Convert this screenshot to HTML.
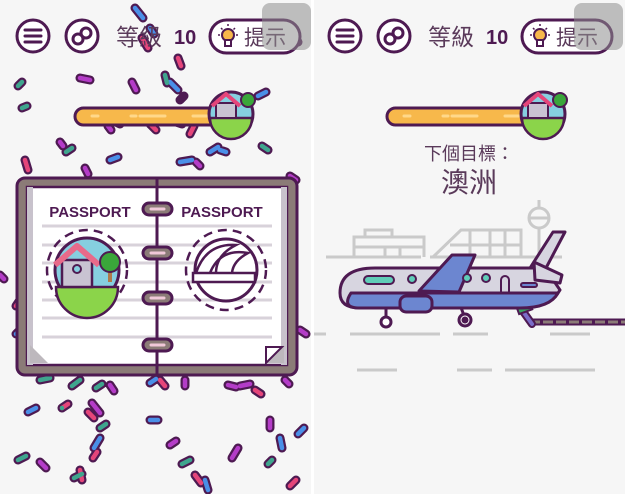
<!DOCTYPE html>
<html><head><meta charset="utf-8"><style>
html,body{margin:0;padding:0;background:#f6f6f6;width:625px;height:494px;overflow:hidden}
svg{display:block}
text{font-family:"Liberation Sans","Noto Sans CJK TC",sans-serif}
</style></head><body>
<svg width="625" height="494" viewBox="0 0 625 494">
<rect width="625" height="494" fill="#f6f6f6"/>
<rect x="311" y="0" width="3" height="494" fill="#ffffff"/>

<!-- confetti -->
<g stroke-linecap="round" fill="none">
<path stroke="#4e1a52" stroke-width="9" d="M135 8l8 10M142 38l6 10M150 28l4 6M178 58l3 8M165 75l2 8M80 78l10 2M132 82l4 8M170 82l8 8M18 86l4-4M22 108l5-2M258 96l8-4M180 100l4-4M108 126l3 4M150 124l6 6M176 122l6 2M190 134l4-8M210 152l8-5M220 150l6 2M262 146l6 4M25 160l3 10M66 152l6-4M110 160l8-3M85 168l3 6M180 162l12-2M196 162l4 4M112 120l8 4M60 142l3 4M290 36l8 6M40 380l10-2M72 386l8-6M96 388l6-4M110 385l4 6M150 383l6-4M160 380l5 6M185 380l0 6M240 386l10-2M255 390l6 4M28 412l8-4M62 408l6-4M92 403l8 10M88 412l6 6M100 428l6-4M100 438l-6 10M97 452l-4 6M150 420l8 0M170 445l6-4M18 460l8-4M40 462l6 6M74 478l8-4M80 470l2 10M182 464l8-4M195 475l6 8M205 480l3 10M238 448l-6 10M270 420l0 8M280 438l2 10M304 428l-6 6M296 480l-6 6M272 460l-4 4M285 380l4 4M228 385l8 2M20 300l-4 6M20 330l-4 4M300 330l6 4M290 176l6 4M0 275l4 4"/>
<path stroke="#e5457a" stroke-width="4.5" d="M142 38l6 10M178 58l3 8M25 160l3 10M190 134l4-8M150 124l6 6M160 380l5 6M62 408l6-4M88 412l6 6M97 452l-4 6M195 475l6 8M296 480l-6 6M255 390l6 4M80 470l2 10M20 300l-4 6"/>
<path stroke="#4a8fe8" stroke-width="4.5" d="M135 8l8 10M150 28l4 6M170 82l8 8M258 96l8-4M210 152l8-5M220 150l6 2M110 160l8-3M180 162l12-2M28 412l8-4M150 383l6-4M100 438l-6 10M150 420l8 0M205 480l3 10M304 428l-6 6M280 438l2 10M20 330l-4 4M290 36l8 6"/>
<path stroke="#3fa58e" stroke-width="4.5" d="M165 75l2 8M18 86l4-4M22 108l5-2M176 122l6 2M66 152l6-4M262 146l6 4M72 386l8-6M96 388l6-4M40 380l10-2M62 408l0 0M100 428l6-4M74 478l8-4M18 460l8-4M272 460l-4 4M182 464l8-4M112 120l8 4"/>
<path stroke="#b43cc8" stroke-width="4.5" d="M80 78l10 2M132 82l4 8M108 126l3 4M85 168l3 6M196 162l4 4M60 142l3 4M110 385l4 6M185 380l0 6M240 386l10-2M92 403l8 10M170 445l6-4M40 462l6 6M238 448l-6 10M270 420l0 8M285 380l4 4M228 385l8 2M300 330l6 4M290 176l6 4M0 275l4 4"/>
</g>

<!-- headers -->
<g id="hdr">
<circle cx="33" cy="36" r="16" fill="#fff" stroke="#4e1a52" stroke-width="3"/>
<path d="M25 30h16M25 36h16M25 42h16" stroke="#4e1a52" stroke-width="3" stroke-linecap="round"/>
<circle cx="82" cy="36" r="16" fill="#fff" stroke="#4e1a52" stroke-width="3"/>
<circle cx="78" cy="39" r="5" fill="none" stroke="#4e1a52" stroke-width="3"/>
<circle cx="86" cy="33" r="5" fill="none" stroke="#4e1a52" stroke-width="3"/>
<text x="116" y="45" font-size="23" fill="#5a3a5a">等級</text>
<text x="174" y="44" font-size="20" font-weight="bold" fill="#4e1a52">10</text>
<rect x="210" y="20" width="90" height="33" rx="16.5" fill="#fff" stroke="#4e1a52" stroke-width="3"/>
<circle cx="228" cy="35" r="6" fill="#f7b84b" stroke="#4e1a52" stroke-width="2"/>
<rect x="225" y="40" width="6" height="6" fill="#fff" stroke="#4e1a52" stroke-width="2"/>
<path d="M228 24v2M218 35h2M236 35h2M221 28l1.5 1.5M235 28l-1.5 1.5" stroke="#4e1a52" stroke-width="1.5"/>
<text x="244" y="45" font-size="21" fill="#5a3a5a">提示</text>
<rect x="262" y="3" width="49" height="47" rx="8" fill="#8e8e8e" opacity="0.55"/>
<!-- progress -->
<rect x="75" y="108" width="165" height="17" rx="8.5" fill="#f7b84b" stroke="#4e1a52" stroke-width="3"/>
<path d="M92 116h6M131 116h5M140 116h25M193 116h16" stroke="#ffd88a" stroke-width="3" stroke-linecap="round"/>
<circle cx="231" cy="114" r="22" fill="#86cfe0" stroke="#4e1a52" stroke-width="3"/>
<path d="M210 118h42a21 21 0 0 1-42 0z" fill="#8bd44a" stroke="#4e1a52" stroke-width="2.5"/>
<rect x="216" y="103" width="20" height="15" fill="#c9c3d2" stroke="#4e1a52" stroke-width="2"/>
<path d="M212 106l14-12 14 12" fill="none" stroke="#e5457a" stroke-width="4" stroke-linejoin="round"/>
<circle cx="248" cy="100" r="7" fill="#3aa63a" stroke="#4e1a52" stroke-width="2"/>
</g>
<use href="#hdr" x="312"/>

<!-- passport -->
<rect x="17" y="178" width="280" height="197" rx="8" fill="#8b7b77" stroke="#4e1a52" stroke-width="3"/>
<rect x="27" y="187" width="260" height="178" fill="#fff" stroke="#4e1a52" stroke-width="2.5"/>
<path d="M27 187h6v178h-6zM281 187h6v178h-6z" fill="#c8c2cc"/>
<path d="M30 345l18 18h-18zM284 345l-18 18h18z" fill="#bdb8bd"/>
<path d="M266 363v-16h16z" fill="#fff" stroke="#4e1a52" stroke-width="2"/>
<g stroke="#d8d2da" stroke-width="3">
<path d="M42 226h230M42 245h230M42 263h230M42 282h230M42 300h230M42 318h230M42 337h230"/>
</g>
<line x1="157" y1="178" x2="157" y2="375" stroke="#4e1a52" stroke-width="3"/>
<text x="90" y="217" font-size="15" font-weight="bold" fill="#4e1a52" text-anchor="middle">PASSPORT</text>
<text x="222" y="217" font-size="15" font-weight="bold" fill="#4e1a52" text-anchor="middle">PASSPORT</text>
<g fill="#8b7b77" stroke="#4e1a52" stroke-width="3">
<rect x="143" y="203" width="29" height="12" rx="6"/><rect x="143" y="247" width="29" height="12" rx="6"/>
<rect x="143" y="292" width="29" height="12" rx="6"/><rect x="143" y="339" width="29" height="12" rx="6"/>
</g>
<path d="M151 209h13M151 253h13M151 298h13M151 345h13" stroke="#f0c8d8" stroke-width="3" stroke-linecap="round"/>
<circle cx="87" cy="270" r="40" fill="none" stroke="#4e1a52" stroke-width="2.5" stroke-dasharray="9 6"/>
<circle cx="226" cy="270" r="40" fill="none" stroke="#4e1a52" stroke-width="2.5" stroke-dasharray="9 6"/>
<circle cx="87" cy="270" r="32" fill="#86cfe0" stroke="#4e1a52" stroke-width="3"/>
<path d="M56 287h62a31 31 0 0 1-62 0z" fill="#8bd44a" stroke="#4e1a52" stroke-width="2.5"/>
<rect x="62" y="260" width="30" height="27" fill="#c9c3d2" stroke="#4e1a52" stroke-width="2.5"/>
<circle cx="77" cy="269" r="4" fill="#86cfe0" stroke="#4e1a52" stroke-width="2"/>
<path d="M55 265l22-19 22 19" fill="none" stroke="#e86a8a" stroke-width="6" stroke-linejoin="round"/>
<rect x="108" y="268" width="4" height="14" fill="#b07a4a"/>
<circle cx="110" cy="262" r="10" fill="#3aa63a" stroke="#4e1a52" stroke-width="2"/>
<circle cx="226" cy="270" r="31" fill="#fff" stroke="#4e1a52" stroke-width="3"/>
<path d="M196 273q10-30 40-28q-20 10-20 28M210 273q10-25 38-20q-15 8-16 20M193 273h62v9h-62z" fill="#fff" stroke="#4e1a52" stroke-width="2.5"/>

<!-- right panel text -->
<text x="469" y="160" font-size="18" fill="#5a3a5a" text-anchor="middle">下個目標：</text>
<text x="469" y="192" font-size="28" fill="#5a3a5a" text-anchor="middle">澳洲</text>

<!-- airport -->
<g fill="none" stroke="#cacaca" stroke-width="3">
<path d="M326 257h95M430 257h132"/>
<path d="M354 257v-20h70v20M365 237v-7h27v7M354 247h70M385 247v10M400 247v10"/>
<path d="M433 257l28-27h60v27M470 230v27M490 230v27M505 230v27M450 245h71"/>
<path d="M539 257v-30M539 208v-8"/>
<circle cx="539" cy="218" r="10"/><path d="M529 218h20"/>
</g>
<!-- ground -->
<g stroke="#cacaca" stroke-width="3">
<path d="M314 334h12M350 334h90M453 334h35M550 334h40M357 370h40M457 370h35M505 370h90"/>
</g>
<!-- conveyor -->
<path d="M528 322h97" stroke="#4e1a52" stroke-width="7"/>
<path d="M530 322h95" stroke="#8b7b77" stroke-width="3" stroke-dasharray="10 3"/>
<path d="M512 296l20 28" stroke="#4e1a52" stroke-width="8" stroke-linecap="round"/>
<path d="M512 296l20 28" stroke="#7b6dc8" stroke-width="4" stroke-linecap="round"/>
<rect x="517" y="302" width="14" height="10" fill="#3aa663" stroke="#4e1a52" stroke-width="2" transform="rotate(-20 524 307)"/>
<!-- plane -->
<g stroke="#4e1a52" stroke-width="3" stroke-linejoin="round">
<path d="M530 268L553 232h12L546 268z" fill="#d7d5e0"/>
<line x1="386" y1="305" x2="386" y2="320"/><circle cx="386" cy="322" r="5" fill="#fff"/>
<line x1="460" y1="305" x2="465" y2="318"/><circle cx="465" cy="320" r="6" fill="#fff"/><circle cx="465" cy="320" r="2" fill="#4e1a52"/>
<path d="M375 268h170l15 22q-10 18-40 18h-160q-20 0-20-15q0-25 35-25z" fill="#d7d5e0"/>
<path d="M351 293h207q-8 15-38 15h-160q-19 0-9-15z" fill="#6c86d0"/>
<path d="M534 262l28 13-2 8-25-3z" fill="#d7d5e0"/>
<path d="M419 291l33-36h23l-16 37z" fill="#6c86d0"/>
<rect x="400" y="296" width="32" height="16" rx="6" fill="#6c86d0"/>
<rect x="364" y="276" width="30" height="8" rx="4" fill="#5fcdb8" stroke-width="2"/>
<circle cx="412" cy="279" r="4" fill="#5fcdb8" stroke-width="2"/>
<circle cx="467" cy="278" r="4" fill="#5fcdb8" stroke-width="2"/>
<circle cx="486" cy="278" r="4" fill="#5fcdb8" stroke-width="2"/>
<path d="M501 292v-12a4 4 0 0 1 8 0v12" fill="none" stroke-width="2"/>
<rect x="521" y="283" width="16" height="4" rx="2" fill="#6c86d0" stroke-width="2"/>
</g>
</svg>
</body></html>
